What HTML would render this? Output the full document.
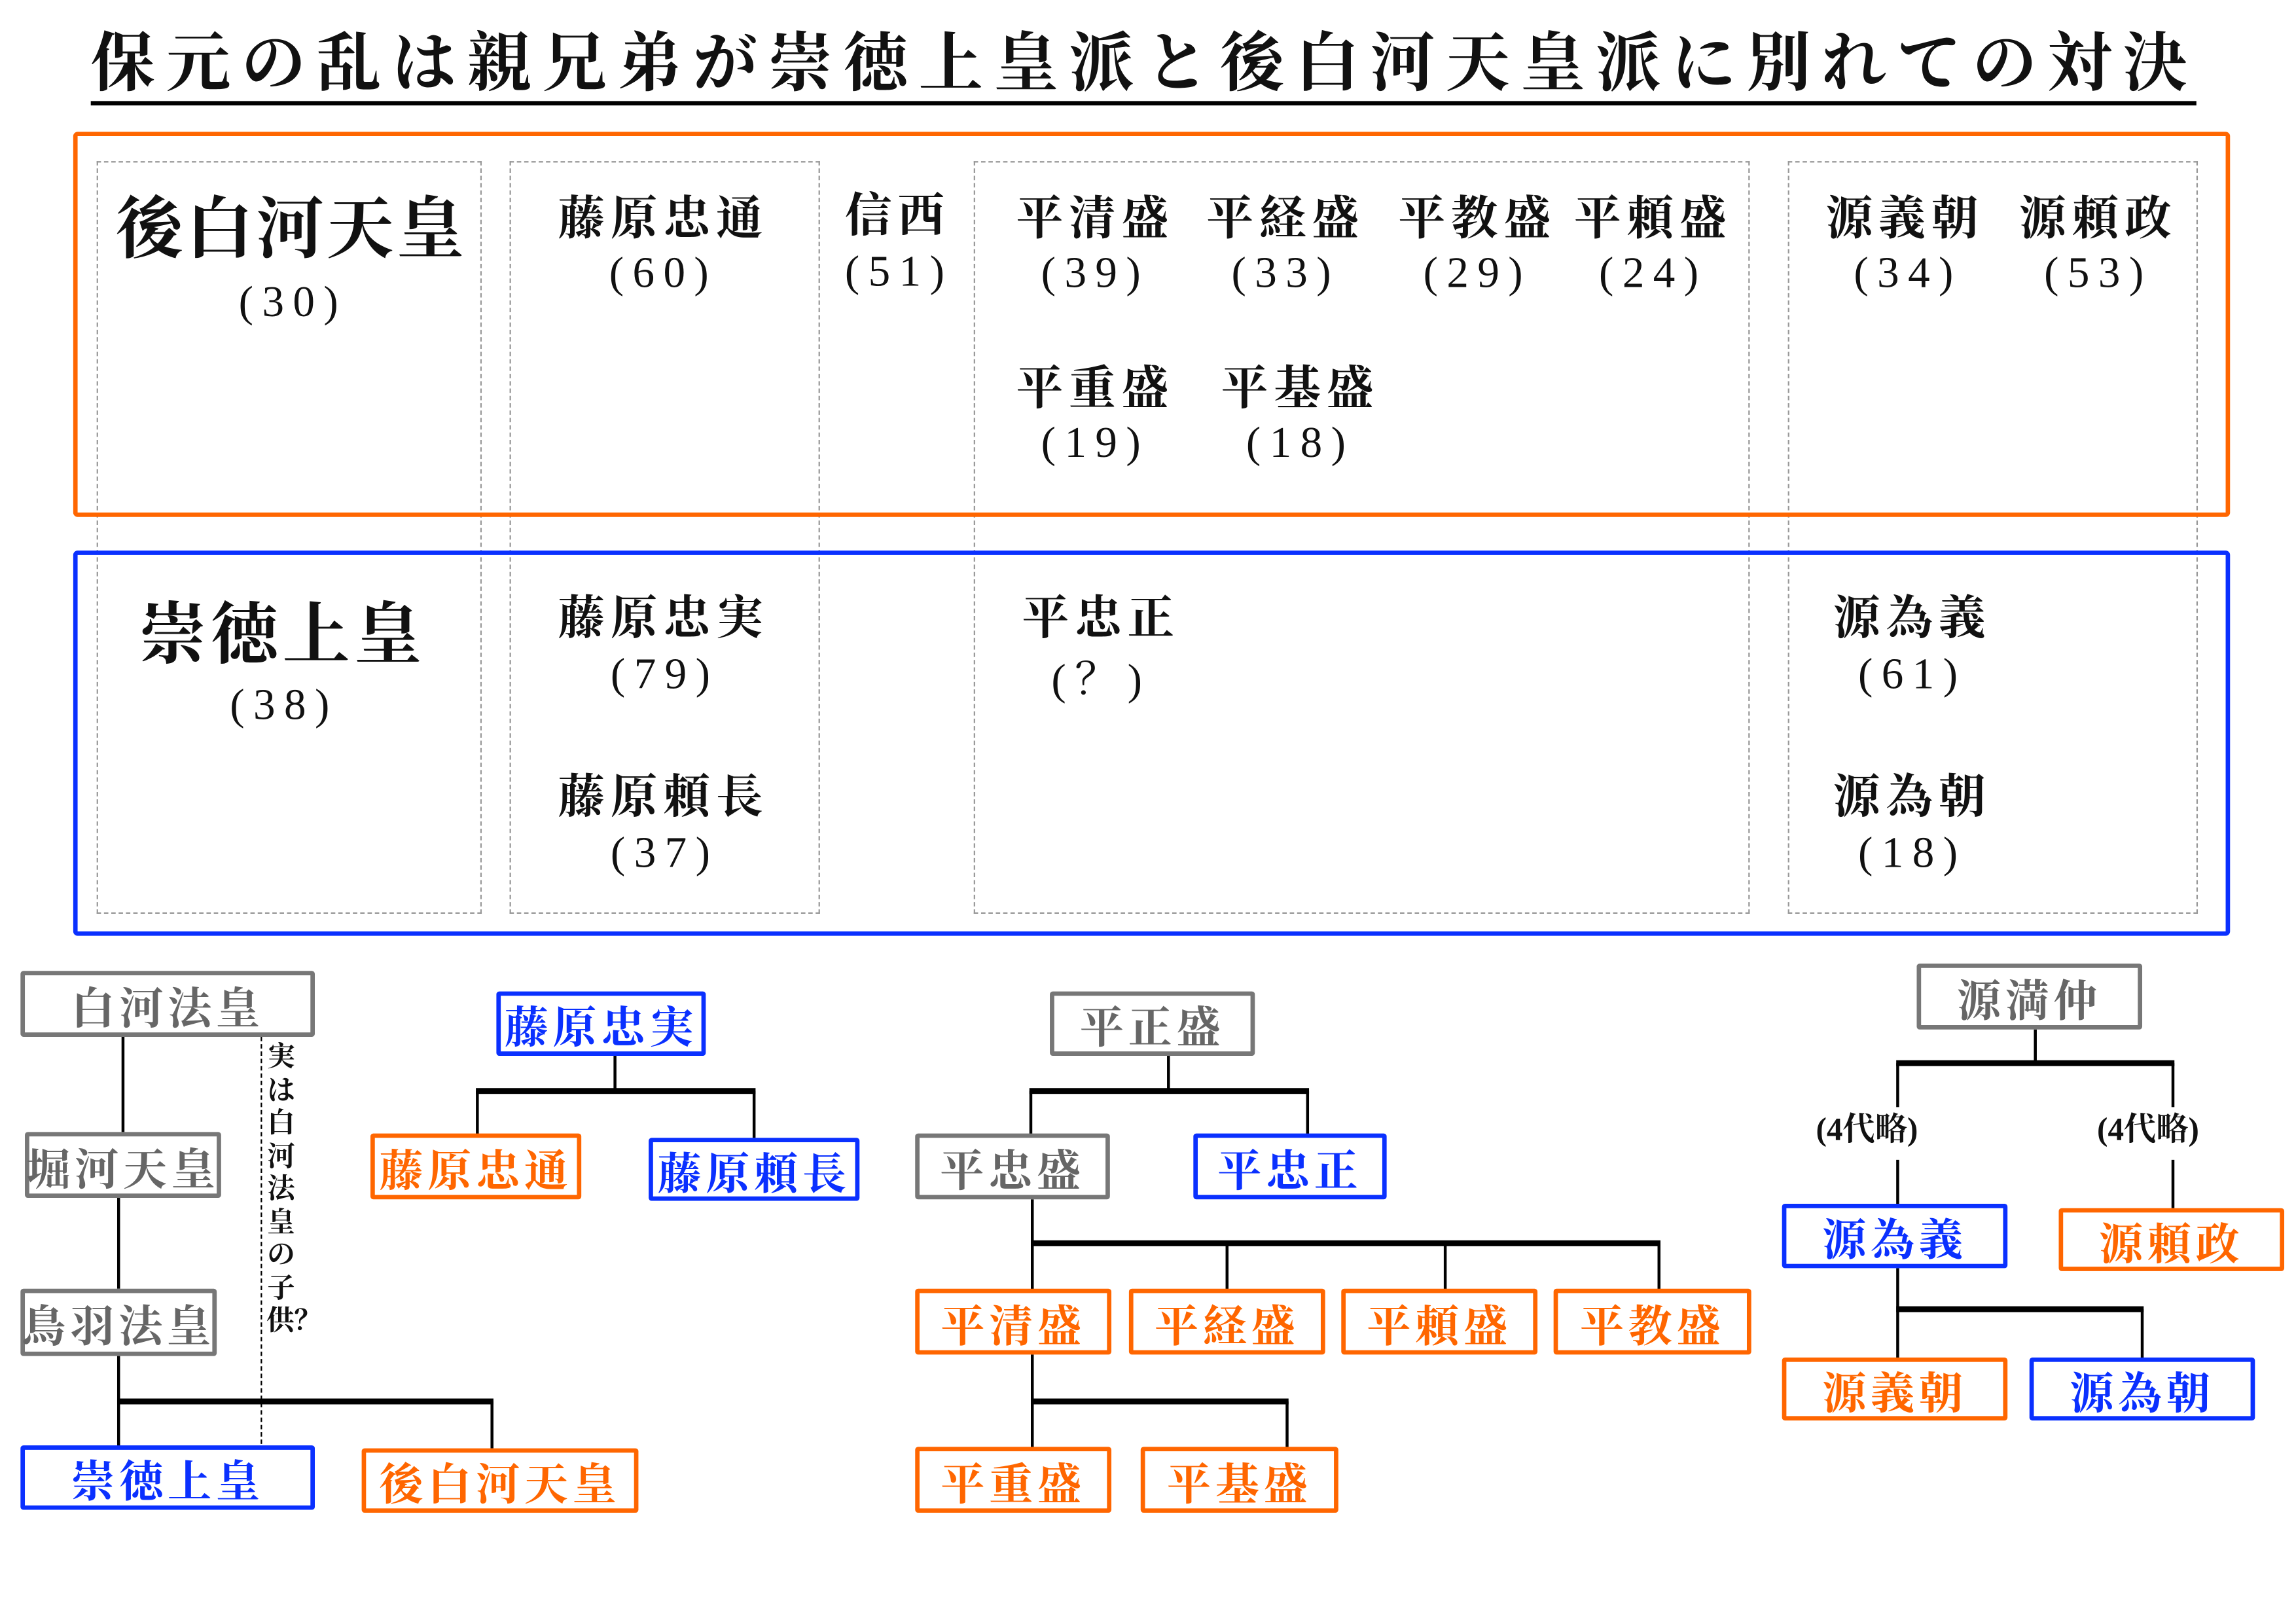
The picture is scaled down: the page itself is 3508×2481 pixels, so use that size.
<!DOCTYPE html>
<html><head><meta charset="utf-8"><style>
html,body{margin:0;padding:0;background:#fff;}
body{width:3508px;height:2480px;overflow:hidden;position:relative;}
#c{position:absolute;left:0;top:0;width:1568px;height:1109px;transform:scale(2.2372);transform-origin:0 0;font-family:"Liberation Serif","Noto Serif CJK SC","Noto Sans CJK JP",serif;font-weight:bold;color:#111;}
.a{position:absolute;}
.t{position:absolute;white-space:nowrap;text-align:center;transform:translate(-50%,-50%);}
.n{font-size:32px;letter-spacing:4px;}
.p{font-size:30px;letter-spacing:6px;font-weight:normal;}
.b{position:absolute;box-sizing:border-box;border:3px solid;border-radius:2px;display:flex;align-items:center;justify-content:center;font-size:30px;letter-spacing:3px;white-space:nowrap;background:#fff;}
.g{border-color:#777;color:#666;}
.o{border-color:#ff6600;color:#ff6600;}
.u{border-color:#0a30ff;color:#0a30ff;}
.d{position:absolute;box-sizing:border-box;border:1.5px dashed #999;}
.v{position:absolute;width:1.6px;background:#000;}
.h{position:absolute;height:4px;background:#000;}
</style></head><body><div id="c">
<div class="a" style="left:62px;top:20px;width:1460px;font-size:44px;letter-spacing:7.4px;white-space:nowrap;line-height:48px">保元の乱は親兄弟が崇徳上皇派と後白河天皇派に別れての対決</div>
<div class="a" style="left:62px;top:69px;width:1438px;height:3px;background:#000"></div>

<div class="d" style="left:66px;top:110px;width:263px;height:514px"></div>
<div class="d" style="left:348px;top:110px;width:212px;height:514px"></div>
<div class="d" style="left:665px;top:110px;width:530px;height:514px"></div>
<div class="d" style="left:1221px;top:110px;width:280px;height:514px"></div>
<div class="a" style="left:50px;top:90px;width:1473px;height:263px;box-sizing:border-box;border:3px solid #ff6600;border-radius:3px"></div>
<div class="a" style="left:50px;top:376px;width:1473px;height:263px;box-sizing:border-box;border:3px solid #0a30ff;border-radius:3px"></div>

<div class="t" style="left:199px;top:153px;font-size:46px;letter-spacing:2px">後白河天皇</div>
<div class="t p" style="left:200px;top:207px">(30)</div>
<div class="t n" style="left:453px;top:147px">藤原忠通</div><div class="t p" style="left:453px;top:187px">(60)</div>
<div class="t n" style="left:613px;top:145px">信西</div><div class="t p" style="left:614px;top:186px">(51)</div>
<div class="t n" style="left:748px;top:147px">平清盛</div><div class="t p" style="left:748px;top:187px">(39)</div>
<div class="t n" style="left:878px;top:147px">平経盛</div><div class="t p" style="left:878px;top:187px">(33)</div>
<div class="t n" style="left:1009px;top:147px">平教盛</div><div class="t p" style="left:1009px;top:187px">(29)</div>
<div class="t n" style="left:1129px;top:147px">平頼盛</div><div class="t p" style="left:1129px;top:187px">(24)</div>
<div class="t n" style="left:748px;top:263px">平重盛</div><div class="t p" style="left:748px;top:303px">(19)</div>
<div class="t n" style="left:888px;top:263px">平基盛</div><div class="t p" style="left:888px;top:303px">(18)</div>
<div class="t n" style="left:1301px;top:147px">源義朝</div><div class="t p" style="left:1303px;top:187px">(34)</div>
<div class="t n" style="left:1433px;top:147px">源頼政</div><div class="t p" style="left:1433px;top:187px">(53)</div>

<div class="t" style="left:193px;top:430px;font-size:46px;letter-spacing:3px">崇徳上皇</div>
<div class="t p" style="left:194px;top:482px">(38)</div>
<div class="t n" style="left:453px;top:420px">藤原忠実</div><div class="t p" style="left:454px;top:461px">(79)</div>
<div class="t n" style="left:453px;top:542px">藤原頼長</div><div class="t p" style="left:454px;top:583px">(37)</div>
<div class="t n" style="left:752px;top:420px">平忠正</div><div class="t p" style="left:752px;top:461px">(？)</div>
<div class="t n" style="left:1306px;top:420px">源為義</div><div class="t p" style="left:1306px;top:461px">(61)</div>
<div class="t n" style="left:1306px;top:542px">源為朝</div><div class="t p" style="left:1306px;top:583px">(18)</div>

<!-- tree 1 -->
<div class="v" style="left:83px;top:708px;height:65px"></div>
<div class="v" style="left:80px;top:818px;height:62px"></div>
<div class="v" style="left:80px;top:926px;height:62px"></div>
<div class="h" style="left:80px;top:955px;width:257px"></div>
<div class="v" style="left:335px;top:957px;height:32px"></div>
<div class="a" style="left:178px;top:708px;height:278px;border-left:1.5px dashed #000"></div>
<div class="a" style="left:182px;top:712px;width:20px;font-size:19px;line-height:22.5px;text-align:center">実は白河法皇の子供？</div>
<div class="b g" style="left:14px;top:663px;width:201px;height:45px">白河法皇</div>
<div class="b g" style="left:17px;top:773px;width:134px;height:45px">堀河天皇</div>
<div class="b g" style="left:14px;top:880px;width:134px;height:46px">鳥羽法皇</div>
<div class="b u" style="left:14px;top:987px;width:201px;height:44px">崇徳上皇</div>
<div class="b o" style="left:247px;top:989px;width:189px;height:44px">後白河天皇</div>

<!-- tree 2 -->
<div class="v" style="left:419px;top:721px;height:24px"></div>
<div class="h" style="left:325px;top:743px;width:191px"></div>
<div class="v" style="left:325px;top:745px;height:30px"></div>
<div class="v" style="left:514px;top:745px;height:32px"></div>
<div class="b u" style="left:339px;top:677px;width:143px;height:44px">藤原忠実</div>
<div class="b o" style="left:253px;top:774px;width:144px;height:45px">藤原忠通</div>
<div class="b u" style="left:443px;top:777px;width:144px;height:43px">藤原頼長</div>

<!-- tree 3 -->
<div class="v" style="left:797px;top:721px;height:24px"></div>
<div class="h" style="left:703px;top:743px;width:191px"></div>
<div class="v" style="left:703px;top:745px;height:30px"></div>
<div class="v" style="left:892px;top:745px;height:30px"></div>
<div class="v" style="left:704px;top:819px;height:62px"></div>
<div class="h" style="left:704px;top:847px;width:430px"></div>
<div class="v" style="left:837px;top:849px;height:32px"></div>
<div class="v" style="left:986px;top:849px;height:32px"></div>
<div class="v" style="left:1132px;top:849px;height:32px"></div>
<div class="v" style="left:704px;top:925px;height:64px"></div>
<div class="h" style="left:704px;top:955px;width:176px"></div>
<div class="v" style="left:878px;top:957px;height:32px"></div>
<div class="b g" style="left:717px;top:677px;width:140px;height:44px">平正盛</div>
<div class="b g" style="left:625px;top:774px;width:133px;height:45px">平忠盛</div>
<div class="b u" style="left:815px;top:774px;width:132px;height:45px">平忠正</div>
<div class="b o" style="left:625px;top:880px;width:134px;height:45px">平清盛</div>
<div class="b o" style="left:771px;top:880px;width:134px;height:45px">平経盛</div>
<div class="b o" style="left:916px;top:880px;width:134px;height:45px">平頼盛</div>
<div class="b o" style="left:1061px;top:880px;width:135px;height:45px">平教盛</div>
<div class="b o" style="left:625px;top:988px;width:134px;height:45px">平重盛</div>
<div class="b o" style="left:779px;top:988px;width:135px;height:45px">平基盛</div>

<!-- tree 4 -->
<div class="v" style="left:1389px;top:703px;height:24px"></div>
<div class="h" style="left:1295px;top:724px;width:190px"></div>
<div class="v" style="left:1295px;top:726px;height:30px"></div>
<div class="v" style="left:1483px;top:726px;height:30px"></div>
<div class="t" style="left:1275px;top:770px;font-size:22px;font-weight:bold">(4代略)</div>
<div class="t" style="left:1467px;top:770px;font-size:22px;font-weight:bold">(4代略)</div>
<div class="v" style="left:1295px;top:792px;height:31px"></div>
<div class="v" style="left:1483px;top:792px;height:33px"></div>
<div class="v" style="left:1295px;top:866px;height:62px"></div>
<div class="h" style="left:1295px;top:892px;width:169px"></div>
<div class="v" style="left:1462px;top:894px;height:34px"></div>
<div class="b g" style="left:1309px;top:658px;width:154px;height:45px">源満仲</div>
<div class="b u" style="left:1217px;top:822px;width:154px;height:44px">源為義</div>
<div class="b o" style="left:1406px;top:825px;width:154px;height:43px">源頼政</div>
<div class="b o" style="left:1217px;top:927px;width:154px;height:43px">源義朝</div>
<div class="b u" style="left:1386px;top:927px;width:154px;height:43px">源為朝</div>
</div></body></html>
